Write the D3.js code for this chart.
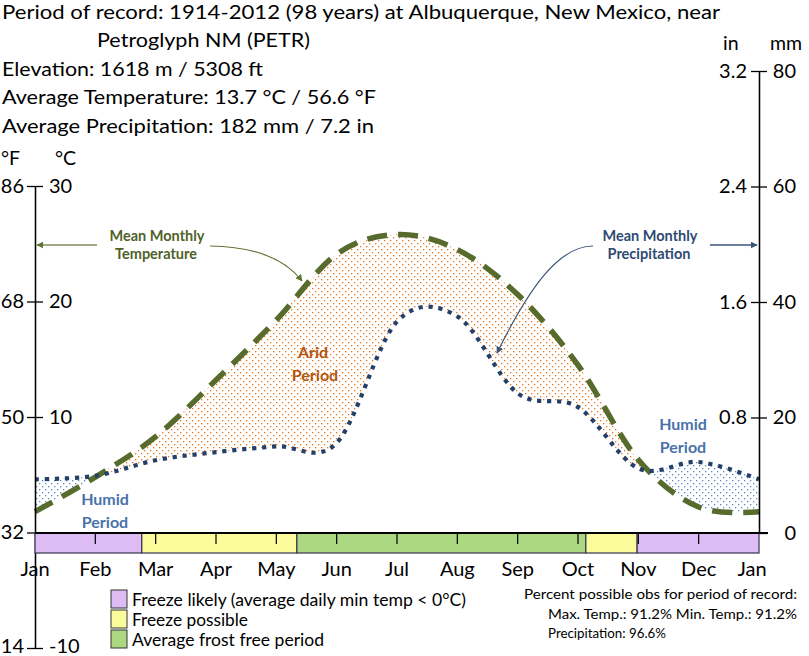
<!DOCTYPE html>
<html>
<head>
<meta charset="utf-8">
<script src="https://cdn.jsdelivr.net/npm/d3@7.9.0/dist/d3.min.js"></script>
<style>
  body { margin: 0; background: #fff; }
  svg { font-family: Lato, "Liberation Sans", sans-serif; }
</style>
</head>
<body>
<svg id="chart" width="809" height="656"></svg>
<script>
// Monthly values, plotted at month boundaries (Jan .. Jan)
const months = ["Jan", "Feb", "Mar", "Apr", "May", "Jun", "Jul", "Aug", "Sep", "Oct", "Nov", "Dec", "Jan"];
const tempC = [1.8, 4.8, 8.3, 13.2, 18.4, 24.1, 25.8, 24.5, 20.6, 14.5, 6.3, 2.2, 1.8];
const precipMm = [9.3, 9.9, 12.6, 14.0, 15.0, 15.6, 36.6, 37.5, 24.2, 21.8, 11.2, 12.3, 9.3];

// Axis ticks
const tempTicksC = [-10, 0, 10, 20, 30];
const precipTicksMm = [0, 20, 40, 60, 80];

// Freeze periods (in months from Jan 1)
const freezeStart = [0, 1.77, 4.34, 9.13, 9.98];
const freezeEnd = [1.77, 4.34, 9.13, 9.98, 12];
const freezeKind = ["likely", "possible", "free", "possible", "likely"];
const legendLabels = ["Freeze likely (average daily min temp < 0°C)", "Freeze possible", "Average frost free period"];
const legendKinds = ["likely", "possible", "free"];

const headerLines = [
  "Period of record: 1914-2012 (98 years) at Albuquerque, New Mexico, near",
  "Petroglyph NM (PETR)",
  "Elevation: 1618 m / 5308 ft",
  "Average Temperature: 13.7 °C / 56.6 °F",
  "Average Precipitation: 182 mm / 7.2 in"
];
const obsLines = [
  "Percent possible obs for period of record:",
  "Max. Temp.: 91.2% Min. Temp.: 91.2%",
  "Precipitation: 96.6%"
];

const kindColor = { likely: "#dcbcf3", possible: "#fbfb9c", free: "#acd882" };

const svg = d3.select("#chart");

const x = d3.scaleLinear().domain([0, 12]).range([35, 759]);
const yT = d3.scaleLinear().domain([-10, 30]).range([648, 186]);
const yP = d3.scaleLinear().domain([0, 80]).range([533, 71]);
const curve = d3.curveCardinal.tension(0);

// patterns + markers
const defs = svg.append("defs");
function dotPattern(id, color) {
  const p = defs.append("pattern").attr("id", id)
    .attr("width", 6).attr("height", 6).attr("patternUnits", "userSpaceOnUse");
  p.append("rect").attr("x", 0).attr("y", 0).attr("width", 1.3).attr("height", 1.3).attr("fill", color);
  p.append("rect").attr("x", 3).attr("y", 3).attr("width", 1.3).attr("height", 1.3).attr("fill", color);
}
dotPattern("aridPat", "#e8761a");
dotPattern("humidPat", "#5b88c6");

function marker(id, color) {
  defs.append("marker").attr("id", id)
    .attr("viewBox", "0 0 10 10").attr("refX", 9).attr("refY", 5)
    .attr("markerWidth", 7).attr("markerHeight", 7).attr("orient", "auto")
    .attr("markerUnits", "userSpaceOnUse")
    .append("path").attr("d", "M0,0 L10,5 L0,10 z").attr("fill", color);
}
marker("arrT", "#5e7432");
marker("arrP", "#3a5578");

const idx = d3.range(months.length);

// clip regions
defs.append("clipPath").attr("id", "aboveP").append("path")
  .attr("d", d3.area().x(i => x(i)).y0(0).y1(i => yP(precipMm[i])).curve(curve)(idx));
defs.append("clipPath").attr("id", "aboveT").append("path")
  .attr("d", d3.area().x(i => x(i)).y0(0).y1(i => yT(tempC[i])).curve(curve)(idx));

// arid: under temperature, above precipitation
svg.append("path")
  .attr("d", d3.area().x(i => x(i)).y0(533).y1(i => yT(tempC[i])).curve(curve)(idx))
  .attr("fill", "url(#aridPat)").attr("clip-path", "url(#aboveP)");
// humid: under precipitation, above temperature
svg.append("path")
  .attr("d", d3.area().x(i => x(i)).y0(533).y1(i => yP(precipMm[i])).curve(curve)(idx))
  .attr("fill", "url(#humidPat)").attr("clip-path", "url(#aboveT)");

// lines
svg.append("path")
  .attr("d", d3.line().x(i => x(i)).y(i => yT(tempC[i])).curve(curve)(idx))
  .attr("fill", "none").attr("stroke", "#566b2c").attr("stroke-width", 5.5)
  .attr("stroke-dasharray", "20,11");
svg.append("path")
  .attr("d", d3.line().x(i => x(i)).y(i => yP(precipMm[i])).curve(curve)(idx))
  .attr("fill", "none").attr("stroke", "#24406a").attr("stroke-width", 4.2)
  .attr("stroke-dasharray", "4.2,5.8");

// header text
const header = svg.append("g").attr("font-size", 19.5).attr("fill", "#000");
const headerPos = [[2, 19, 718], [97, 47, 213], [2, 76, 261], [2, 104, 374], [2, 133, 372]];
headerLines.forEach((t, i) => {
  header.append("text").attr("x", headerPos[i][0]).attr("y", headerPos[i][1])
    .attr("textLength", headerPos[i][2]).attr("lengthAdjust", "spacingAndGlyphs").text(t);
});
header.append("text").attr("x", 1).attr("y", 165).text("°F");
header.append("text").attr("x", 55).attr("y", 165).text("°C");
header.append("text").attr("x", 723).attr("y", 50).text("in");
header.append("text").attr("x", 770).attr("y", 50).text("mm");

// axes
function styleAxis(g) {
  g.attr("font-size", 20).attr("font-family", null);
  g.selectAll("text").attr("fill", "#000");
  g.selectAll("line, path").attr("stroke", "#000").attr("stroke-width", 1.3);
}
const fAxis = svg.append("g").attr("transform", "translate(35,0)")
  .call(d3.axisLeft(yT).tickValues(tempTicksC).tickSize(8).tickSizeOuter(0).tickPadding(3)
    .tickFormat(c => Math.round(c * 9 / 5 + 32)))
  .call(styleAxis);
const cAxis = svg.append("g").attr("transform", "translate(35,0)")
  .call(d3.axisRight(yT).tickValues(tempTicksC).tickSize(8).tickSizeOuter(0).tickPadding(6)
    .tickFormat(c => c === 0 ? "" : c))
  .call(styleAxis);
// keep the lowest labels inside the picture
[fAxis, cAxis].forEach(g => g.selectAll(".tick").filter(d => d === -10)
  .select("text").attr("dy", "0.22em"));
svg.append("g").attr("transform", "translate(759,0)")
  .call(d3.axisLeft(yP).tickValues(precipTicksMm).tickSize(8).tickSizeOuter(0).tickPadding(4)
    .tickFormat(m => m === 0 ? "" : (m / 25).toFixed(1)))
  .call(styleAxis);
const mmAxis = svg.append("g").attr("transform", "translate(759,0)")
  .call(d3.axisRight(yP).tickValues(precipTicksMm).tickSize(8).tickSizeOuter(0).tickPadding(3))
  .call(styleAxis);
mmAxis.selectAll("text").attr("text-anchor", "end").attr("x", 37);

// freeze band
const band = svg.append("g");
freezeKind.forEach((k, i) => {
  band.append("rect")
    .attr("x", x(freezeStart[i])).attr("y", 533)
    .attr("width", x(freezeEnd[i]) - x(freezeStart[i])).attr("height", 20)
    .attr("fill", kindColor[k]).attr("stroke", "#3a3550").attr("stroke-width", 1.2);
});
band.selectAll("line.mt").data(d3.range(1, 12)).join("line")
  .attr("x1", d => x(d)).attr("x2", d => x(d)).attr("y1", 533).attr("y2", 544)
  .attr("stroke", "#000").attr("stroke-width", 1.2);
band.append("line").attr("x1", 35).attr("x2", 768).attr("y1", 533).attr("y2", 533)
  .attr("stroke", "#000").attr("stroke-width", 2);

// month labels
svg.append("g").attr("font-size", 20).attr("text-anchor", "middle")
  .selectAll("text").data(months).join("text")
  .attr("x", (d, i) => i === 12 ? x(i) - 7 : x(i)).attr("y", 576).text(d => d);

// annotations
const ann = svg.append("g").attr("font-weight", "bold").attr("text-anchor", "middle");
ann.append("text").attr("x", 157).attr("y", 241).attr("font-size", 14.5).attr("fill", "#4f6228").text("Mean Monthly");
ann.append("text").attr("x", 156).attr("y", 259).attr("font-size", 14.5).attr("fill", "#4f6228").text("Temperature");
ann.append("text").attr("x", 650).attr("y", 241).attr("font-size", 14.5).attr("fill", "#2f4a72").text("Mean Monthly");
ann.append("text").attr("x", 649).attr("y", 259).attr("font-size", 14.5).attr("fill", "#2f4a72").text("Precipitation");
ann.append("text").attr("x", 313).attr("y", 358).attr("font-size", 16).attr("fill", "#b25710").text("Arid");
ann.append("text").attr("x", 315).attr("y", 381).attr("font-size", 16).attr("fill", "#b25710").text("Period");
ann.append("text").attr("x", 105).attr("y", 505).attr("font-size", 16).attr("fill", "#4a72aa").text("Humid");
ann.append("text").attr("x", 105).attr("y", 528).attr("font-size", 16).attr("fill", "#4a72aa").text("Period");
ann.append("text").attr("x", 683).attr("y", 430).attr("font-size", 16).attr("fill", "#4a72aa").text("Humid");
ann.append("text").attr("x", 683).attr("y", 453).attr("font-size", 16).attr("fill", "#4a72aa").text("Period");

svg.append("path").attr("d", "M97,245 L37,245").attr("fill", "none")
  .attr("stroke", "#7d8c5c").attr("stroke-width", 1.3).attr("marker-end", "url(#arrT)");
svg.append("path").attr("d", "M210,246 Q276,247 302,281").attr("fill", "none")
  .attr("stroke", "#5e7432").attr("stroke-width", 1.2).attr("marker-end", "url(#arrT)");
svg.append("path").attr("d", "M710,245 L757,245").attr("fill", "none")
  .attr("stroke", "#3a5578").attr("stroke-width", 1.3).attr("marker-end", "url(#arrP)");
svg.append("path").attr("d", "M593,246 C558,246 528,290 497,353").attr("fill", "none")
  .attr("stroke", "#3a5578").attr("stroke-width", 1.2).attr("marker-end", "url(#arrP)");

// legend
const leg = svg.append("g");
legendKinds.forEach((k, i) => {
  leg.append("rect").attr("x", 111).attr("y", 590 + i * 20).attr("width", 16).attr("height", 18)
    .attr("fill", kindColor[k]).attr("stroke", "#333").attr("stroke-width", 1);
});
const legW = [334, 116, 192];
legendLabels.forEach((t, i) => {
  leg.append("text").attr("x", 132).attr("y", 606 + i * 20).attr("font-size", 17)
    .attr("textLength", legW[i]).attr("lengthAdjust", "spacingAndGlyphs").text(t);
});

// observation note
const obsPos = [[524, 599, 273], [548, 619, 249], [548, 638, 118]];
obsLines.forEach((t, i) => {
  svg.append("text").attr("x", obsPos[i][0]).attr("y", obsPos[i][1]).attr("font-size", 13)
    .attr("textLength", obsPos[i][2]).attr("lengthAdjust", "spacingAndGlyphs").text(t);
});
</script>
</body>
</html>
